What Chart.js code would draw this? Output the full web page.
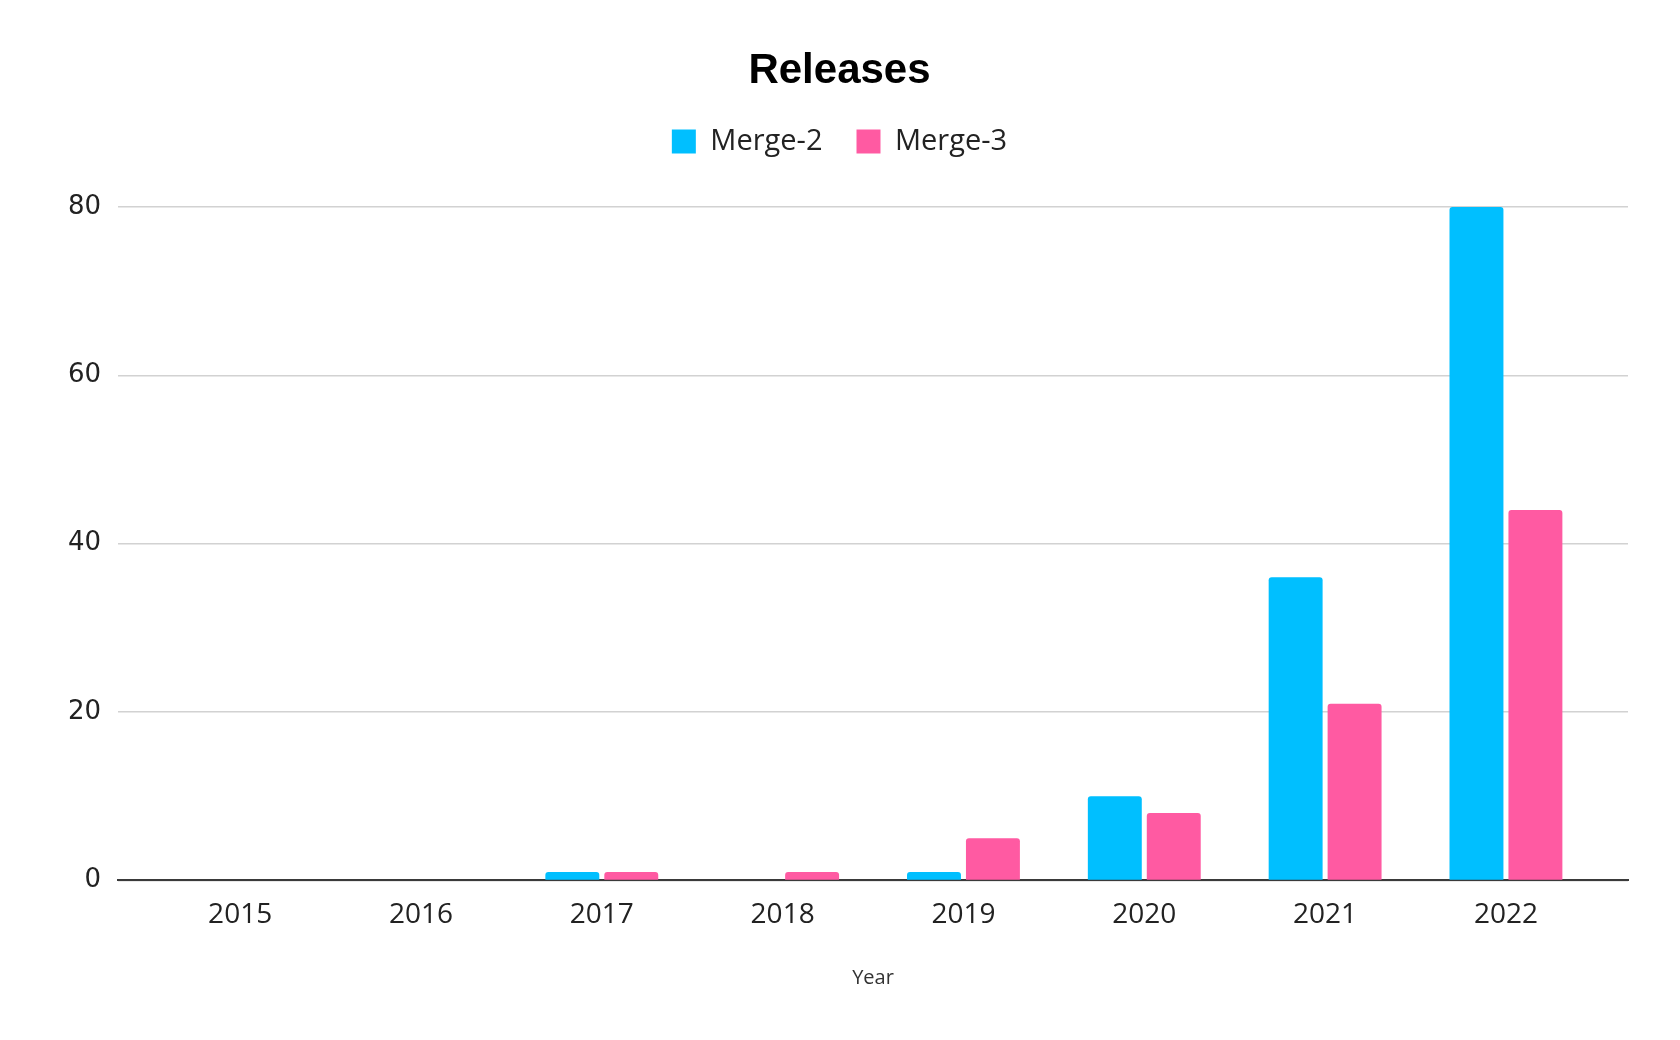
<!DOCTYPE html>
<html>
<head>
<meta charset="utf-8">
<title>Releases</title>
<script src="https://cdn.jsdelivr.net/npm/chart.js@4.4.1/dist/chart.umd.min.js"></script>
<style>
  html, body { margin: 0; padding: 0; background: #ffffff; }
  #wrap { width: 1680px; height: 1040px; }
</style>
</head>
<body>
<div id="wrap"><canvas id="releasesChart" width="1680" height="1040"></canvas></div>
<script>
// Dados do gráfico
const years = ['2015', '2016', '2017', '2018', '2019', '2020', '2021', '2022'];
const merge2 = [0, 0, 1, 0, 1, 10, 36, 80];
const merge3 = [0, 0, 1, 1, 5, 8, 21, 44];
const yTicks = [0, 20, 40, 60, 80];

// Espaço extra entre a legenda e a área do gráfico
const legendSpacing = {
    id: 'legendSpacing',
    beforeInit(chart) {
        const origFit = chart.legend.fit;
        chart.legend.fit = function () {
            origFit.call(this);
            this.height += 41;
        };
    }
};

const toPoints = (arr) => arr.map((v, i) => ({ x: i, y: v }));

const ctx = document.getElementById('releasesChart').getContext('2d');
new Chart(ctx, {
    type: 'bar',
    data: {
        labels: years,
        datasets: [{
            label: 'Merge-2',
            data: toPoints(merge2),
            backgroundColor: '#00BFFF',
            borderRadius: 3
        }, {
            label: 'Merge-3',
            data: toPoints(merge3),
            backgroundColor: '#FF5AA2',
            borderRadius: 3
        }]
    },
    options: {
        responsive: false,
        animation: false,
        categoryPercentage: 0.652,
        barPercentage: 0.915,
        layout: { padding: { top: 0, left: 51, right: 52, bottom: 50 } },
        plugins: {
            title: {
                display: true,
                text: 'Releases',
                color: '#000',
                font: { family: '"Liberation Sans", Arial, sans-serif', size: 42, weight: 'bold', lineHeight: 1 },
                padding: { top: 50, bottom: 1 }
            },
            legend: {
                display: true,
                labels: {
                    color: '#222',
                    boxWidth: 24,
                    boxHeight: 24,
                    padding: 34,
                    font: { family: '"Open Sans", sans-serif', size: 29 }
                }
            },
            tooltip: { enabled: false }
        },
        scales: {
            x: {
                type: 'linear',
                min: -0.675,
                max: 7.675,
                offset: false,
                afterBuildTicks: (scale) => {
                    scale.ticks = years.map((_, i) => ({ value: i }));
                },
                ticks: {
                    color: '#222',
                    padding: 18,
                    maxRotation: 0,
                    font: { family: '"Open Sans", sans-serif', size: 28 },
                    callback: (value) => years[value]
                },
                grid: { display: false, drawTicks: false, offset: false },
                border: { display: true, color: '#3a3a3a', width: 2 },
                title: {
                    display: true,
                    text: 'Year',
                    color: '#333',
                    font: { family: '"Open Sans", sans-serif', size: 20 },
                    padding: { top: 16, bottom: 0 }
                }
            },
            y: {
                min: 0,
                max: 80,
                afterBuildTicks: (scale) => {
                    scale.ticks = yTicks.map(v => ({ value: v }));
                },
                ticks: {
                    color: '#222',
                    padding: 17,
                    font: { family: '"DejaVu Sans", sans-serif', size: 26 }
                },
                grid: { color: '#d2d2d2', lineWidth: 1.5, drawTicks: false },
                border: { display: false }
            }
        }
    },
    plugins: [legendSpacing]
});
</script>
</body>
</html>
